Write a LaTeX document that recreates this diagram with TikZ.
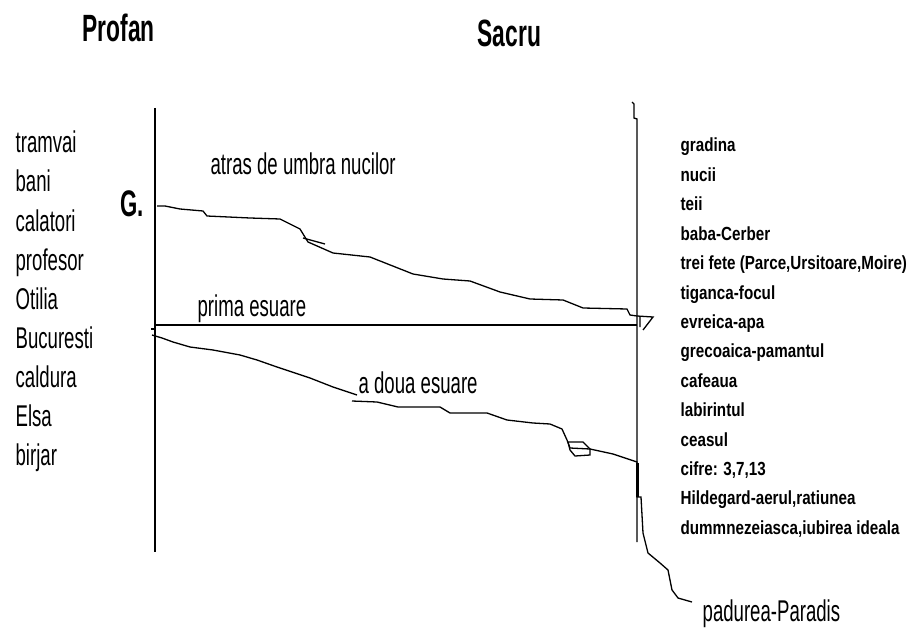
\documentclass[tikz,border=0pt]{standalone}
\usepackage{fontspec}
\setmainfont{Liberation Sans}[FakeStretch=0.62]
\newfontfamily\headfont{Liberation Sans}[FakeStretch=0.6]
\newfontfamily\pixfont{Liberation Sans}[FakeStretch=0.8]

\begin{document}
\begin{tikzpicture}[x=1pt,y=-1pt,line width=1.3pt,
  lbl/.style={anchor=base west,inner sep=0pt,font=\fontsize{30}{30}\selectfont},
  sacrulbl/.style={anchor=base west,inner sep=0pt,font=\pixfont\bfseries\fontsize{19}{19}\selectfont},
  head/.style={anchor=base west,inner sep=0pt,font=\headfont\bfseries\fontsize{38}{38}\selectfont}]
\useasboundingbox (0,0) rectangle (917,628);
% titluri
\node[head] (profan) at (82,42) {Profan};
\node[head] (sacru) at (477,47) {Sacru};
\node[head,font=\headfont\bfseries\fontsize{37}{37}\selectfont] (g) at (120,217) {G.};
% axele
\coordinate (proftop) at (155,108);
\coordinate (profbot) at (155,552);
\coordinate (sacrtop) at (632,102);
\coordinate (sacrbot) at (637,542);
\draw (proftop) -- (profbot);
\draw (sacrtop) -- ++(2,2) -- ++(0,14) -- ++(3,1) -- (sacrbot);
% profan
\foreach \w [count=\i] in {tramvai,bani,calatori,profesor,Otilia,Bucuresti,caldura,Elsa,birjar}
    \node[lbl] (p\i) at (15,{153+39*(\i-1)}) {\w};
% sacru
\foreach \w [count=\i] in {gradina,nucii,teii,baba-Cerber,{trei fete (Parce,Ursitoare,Moire)},
    tiganca-focul,evreica-apa,grecoaica-pamantul,cafeaua,labirintul,ceasul,{cifre: 3,7,13},
    {Hildegard-aerul,ratiunea},{dummnezeiasca,iubirea ideala}}
    \node[sacrulbl] (s\i) at (680,{152+29.4*(\i-1)}) {\w};
\node[lbl] (atras) at (210,175) {atras de umbra nucilor};
\node[lbl] (prima) at (197,316) {prima esuare};
\node[lbl] (adoua) at (358,393) {a doua esuare};
\node[lbl] (padure) at (702,621) {padurea-Paradis};
% drumul lui Felix
\coordinate (g1) at (157,206);
\coordinate (g2) at (637,316);
\draw (g1) -- (165,206) -- (180,209) -- (203,211) -- (207,216) -- (250,218) -- (280,219)
    -- (300,229) -- (308,242) -- (333,253) -- (370,257) -- (413,274) -- (443,279) -- (470,281)
    -- (500,292) -- (530,299) -- (563,300) -- (583,308) -- (627,309) -- (630,315) -- (g2);
\draw (303,238) -- (325,244);
\draw (g2) -- (653,317) -- (643,330) (640,316) -- (640,327);
% prima esuare
\coordinate (e1) at (155,325);
\coordinate (e2) at (637,325);
\draw (e1) -- (e2);
\draw (151,329) -- (155,329);
% a doua esuare
\coordinate (d1) at (152,335);
\coordinate (d2) at (357,395);
\coordinate (d3) at (352,401);
\coordinate (d4) at (692,602);
\draw (d1) -- (162,338) -- (173,342) -- (190,347) -- (213,350) -- (240,355) -- (257,360)
    -- (277,367) -- (310,378) -- (333,387) -- (d2);
\draw (d3) -- (377,402) -- (398,407) -- (440,407) -- (450,413) -- (487,413) -- (507,420)
    -- (533,423) -- (550,424) -- (562,429) -- (567,440) -- (570,448) -- (590,449) -- (613,454)
    -- (637,462) -- (637,497) -- (641,497) -- (643,533) -- (648,553) -- (660,563) -- (668,570)
    -- (672,590) -- (678,598) -- (d4);
\draw[line width=3pt] (637,463) -- (637,497);
\draw (568,442) -- (583,442) -- (590,449) -- (590,455) -- (575,456) -- (570,450) -- cycle;
\end{tikzpicture}
\end{document}
